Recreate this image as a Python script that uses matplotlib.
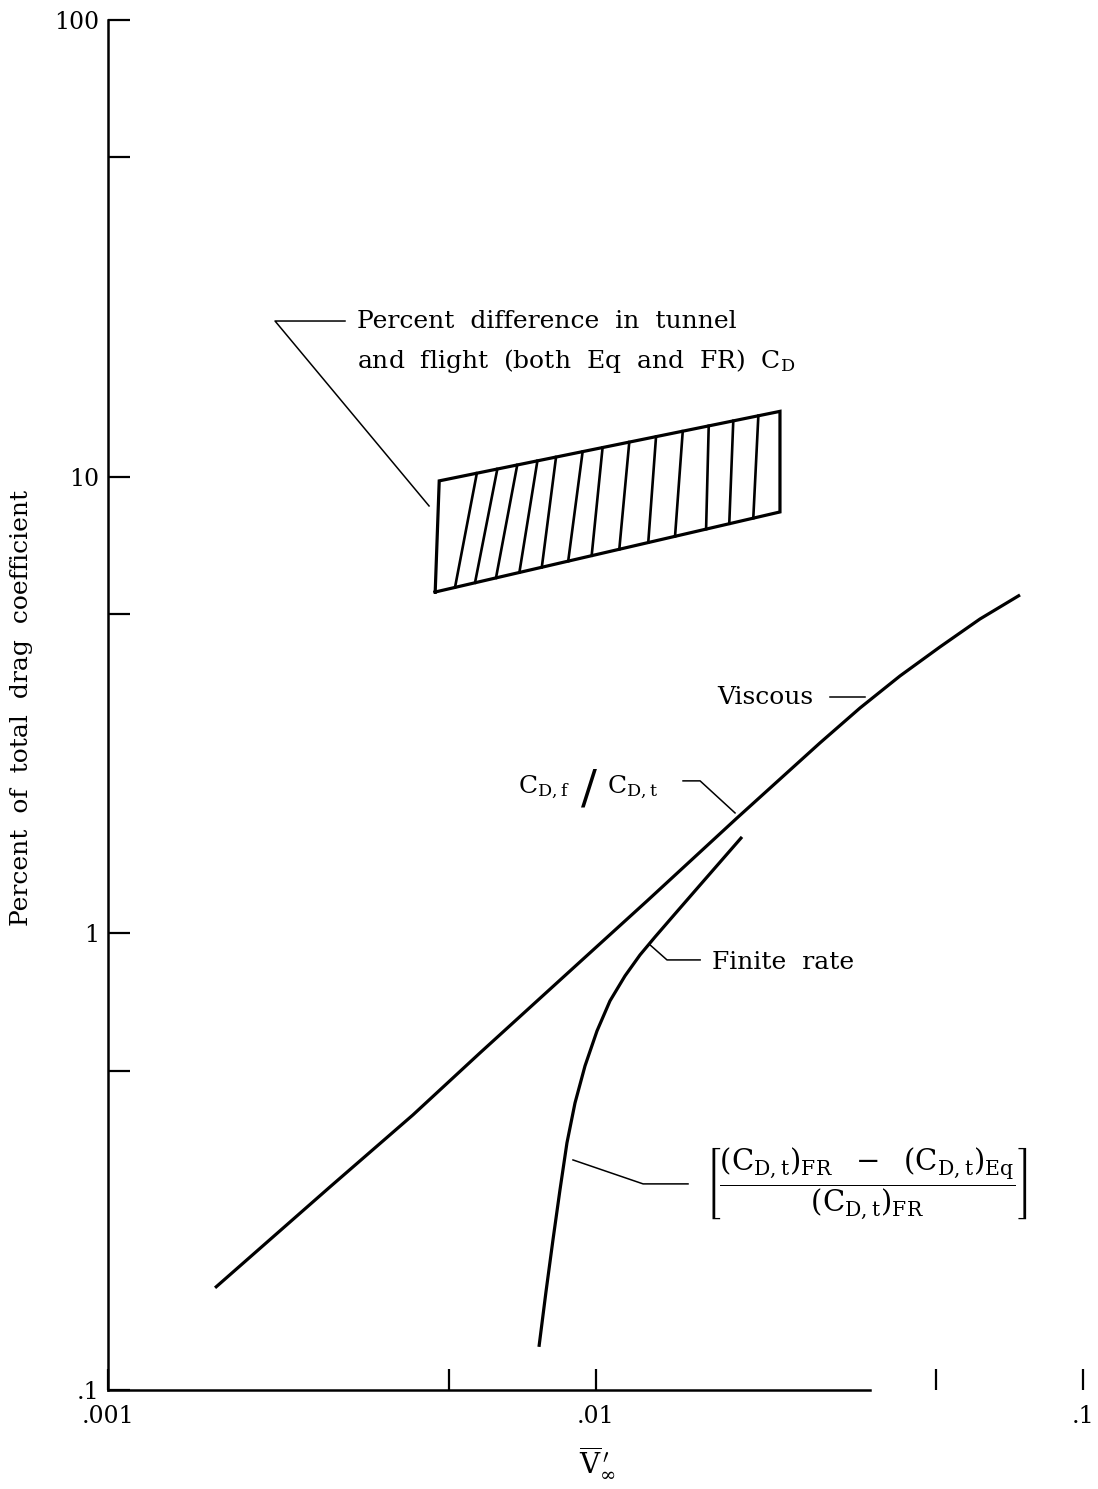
import numpy as np
import matplotlib
matplotlib.use('Agg')
import matplotlib.pyplot as plt
from matplotlib.ticker import FixedLocator, FixedFormatter, NullFormatter

plt.rcParams['font.family'] = 'DejaVu Serif'
plt.rcParams['mathtext.fontset'] = 'dejavuserif'

############################ data
# viscous C_D,f / C_D,t curve
visc_x = [0.001658, 0.002853, 0.004222, 0.005795, 0.009294, 0.012752,
          0.019512, 0.02887, 0.03488, 0.04213, 0.05089, 0.06147, 0.07427]
visc_y = [0.1674, 0.2784, 0.4003, 0.5472, 0.8659, 1.177,
          1.789, 2.612, 3.115, 3.661, 4.238, 4.879, 5.508]
# finite rate curve
fr_x = [0.007657, 0.007914, 0.008180, 0.008455, 0.008738, 0.009077, 0.009517,
        0.010071, 0.010707, 0.011494, 0.012340, 0.013248, 0.014556, 0.016389,
        0.019976]
fr_y = [0.1243, 0.1640, 0.2132, 0.2742, 0.3475, 0.4251, 0.5126,
        0.6113, 0.7112, 0.8067, 0.8969, 0.9820, 1.103, 1.276,
        1.626]
# tunnel / flight band (corners) and its hatch lines
band_x = [0.00478, 0.0239]          # left, right
band_top = [9.79, 13.9]
band_bot = [5.59, 8.37]
band_left_bot_x = 0.00469
hatch_top_x = [0.00571, 0.00629, 0.00691, 0.00760, 0.00830, 0.00941, 0.01034,
               0.01173, 0.01331, 0.01510, 0.01707, 0.01917, 0.02158]
hatch_bot_x = [0.00515, 0.00566, 0.00625, 0.00698, 0.00776, 0.00879, 0.00982,
               0.01119, 0.01283, 0.01456, 0.01686, 0.01881, 0.02107]

x_major = [0.001, 0.01, 0.1]
x_major_lbl = ['.001', '.01', '.1']
x_minor = [0.005, 0.05]
y_major = [0.1, 1, 10, 100]
y_major_lbl = ['.1', '1', '10', '100']
y_minor = [0.5, 5, 50]
############################

fig = plt.figure(figsize=(10.98, 14.89), dpi=100)
ax = fig.add_axes([108/1098, 1-1390/1489, 975/1098, 1370/1489])
ax.set_xscale('log')
ax.set_yscale('log')
ax.set_xlim(0.001, 0.1)
ax.set_ylim(0.1, 100)

lw = 2.3
ax.plot(visc_x, visc_y, c='black', lw=lw, solid_capstyle='butt',
        solid_joinstyle='round')
ax.plot(fr_x, fr_y, c='black', lw=lw, solid_capstyle='butt',
        solid_joinstyle='round')

# band outline
lt, rt = np.log10(band_top)
lb, rb = np.log10(band_bot)
xl, xr = np.log10(band_x)
xlb = np.log10(band_left_bot_x)
ax.plot([band_left_bot_x, band_x[0], band_x[1], band_x[1], band_left_bot_x],
        [band_bot[0], band_top[0], band_top[1], band_bot[1], band_bot[0]],
        c='black', lw=lw, solid_joinstyle='miter')
for xt, xb in zip(hatch_top_x, hatch_bot_x):
    yt = 10**np.interp(np.log10(xt), [xl, xr], [lt, rt])
    yb = 10**np.interp(np.log10(xb), [xlb, xr], [lb, rb])
    ax.plot([xt, xb], [yt, yb], c='black', lw=1.9)

# annotations
fs = 18
llw = 1.1
ax.plot([0.004556, 0.002201, 0.003063], [8.627, 21.92, 21.92], c='black', lw=llw)
ax.text(0.003242, 21.92, 'Percent  difference  in  tunnel', fontsize=fs,
        ha='left', va='center')
ax.text(0.003242, 17.92,
        r'and  flight  (both  Eq  and  FR)  $\mathrm{C}_{\mathrm{D}}$',
        fontsize=fs, ha='left', va='center')

ax.text(0.02794, 3.277, 'Viscous', fontsize=fs, ha='right', va='center')
ax.plot([0.03027, 0.03570], [3.293, 3.293], c='black', lw=llw)

ax.text(0.008866, 2.092, r'$\mathrm{C}_{\mathrm{D,f}}$', fontsize=fs,
        ha='right', va='center')
ax.text(0.009697, 2.06, '/', fontsize=34, ha='center', va='center')
ax.text(0.01056, 2.092, r'$\mathrm{C}_{\mathrm{D,t}}$', fontsize=fs,
        ha='left', va='center')
ax.plot([0.01512, 0.01639, 0.01933], [2.157, 2.157, 1.835], c='black', lw=llw)

ax.plot([0.01294, 0.014017, 0.01639], [0.9432, 0.8745, 0.8745], c='black', lw=llw)
ax.text(0.01734, 0.8615, 'Finite  rate', fontsize=fs, ha='left', va='center')

ax.plot([0.008991, 0.01252, 0.01548], [0.3190, 0.2827, 0.2827], c='black', lw=llw)
ax.text(0.01678, 0.283,
        r'$\left[\dfrac{(\mathrm{C}_{\mathrm{D,t}})_{\mathrm{FR}}\ \ -\ \ (\mathrm{C}_{\mathrm{D,t}})_{\mathrm{Eq}}}'
        r'{(\mathrm{C}_{\mathrm{D,t}})_{\mathrm{FR}}}\right]$',
        fontsize=21, ha='left', va='center')

# axes look
for s in ['top', 'right']:
    ax.spines[s].set_visible(False)
ax.spines['left'].set_linewidth(1.8)
ax.spines['bottom'].set_linewidth(1.8)
ax.spines['bottom'].set_bounds(0.001, 0.0366)

ax.xaxis.set_major_locator(FixedLocator(x_major))
ax.xaxis.set_major_formatter(FixedFormatter(x_major_lbl))
ax.xaxis.set_minor_locator(FixedLocator(x_minor))
ax.xaxis.set_minor_formatter(NullFormatter())
ax.yaxis.set_major_locator(FixedLocator(y_major))
ax.yaxis.set_major_formatter(FixedFormatter(y_major_lbl))
ax.yaxis.set_minor_locator(FixedLocator(y_minor))
ax.yaxis.set_minor_formatter(NullFormatter())
ax.tick_params(axis='x', which='both', direction='in', length=15, width=1.6,
               pad=11, labelsize=17)
ax.tick_params(axis='y', which='both', direction='in', length=16, width=1.6,
               pad=6, labelsize=17)

fig.text(597/1098, 1-1462/1489, r'$\overline{\mathrm{V}}_{\infty}^{\,\prime}$',
         fontsize=20, ha='center', va='center')
fig.text(22/1098, 1-708/1489, 'Percent  of  total  drag  coefficient',
         fontsize=fs, rotation=90, ha='center', va='center')

fig.savefig('out.png', dpi=100)
